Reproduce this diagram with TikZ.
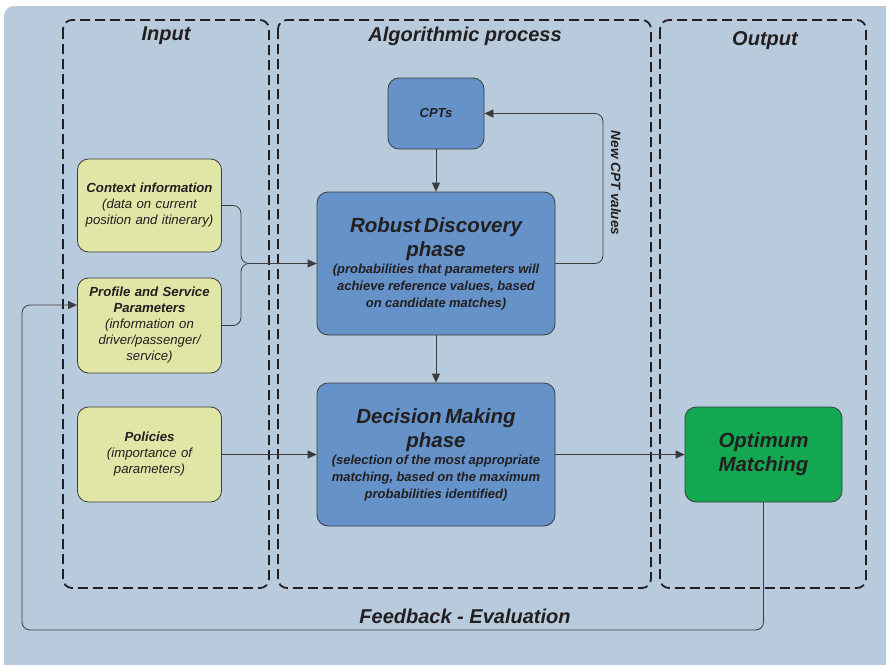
\documentclass[tikz,border=0pt]{standalone}
\usepackage{fontspec}
\setmainfont{Liberation Sans}
\usetikzlibrary{arrows.meta,calc}
\definecolor{bgc}{HTML}{B8CBDC}
\definecolor{bluebox}{HTML}{6593C9}
\definecolor{yelbox}{HTML}{DFE6A6}
\definecolor{grnbox}{HTML}{13A752}
\definecolor{bord}{HTML}{3C3C3C}
\definecolor{txt}{HTML}{231F20}
\newcommand{\bigtitle}{\fontsize{20.5}{24}\selectfont\bfseries\itshape}
\newcommand{\subtxt}{\fontsize{13}{17}\selectfont\bfseries\itshape}
\begin{document}
\begin{tikzpicture}[x=1pt,y=-1pt,
  every node/.style={text=txt},
  box/.style={draw=bord, line width=0.8pt, rounded corners=11pt, align=center, inner sep=2pt},
  bluest/.style={box, fill=bluebox},
  yelst/.style={box, fill=yelbox, minimum width=143pt, minimum height=95pt, text width=140pt, font=\fontsize{13.2}{16}\selectfont\itshape},
  lane/.style={draw=txt, line width=1.8pt, dash pattern=on 10pt off 5pt, rounded corners=9pt},
  lanetitle/.style={font=\fontsize{20}{24}\selectfont\bfseries\itshape},
  conn/.style={draw=bord, line width=0.8pt, rounded corners=8pt},
  arr/.style={-{Triangle[length=9pt,width=8pt]}}
]
\useasboundingbox (0,0) rectangle (886,664);
\fill[bgc, rounded corners=10pt] (4,6) rectangle (900,680);

% lanes
\draw[lane] (63,20) rectangle (269,588);
\draw[lane] (278,20) rectangle (651,588);
\draw[lane] (660,20) rectangle (866,588);
\node[lanetitle] (tin) at (166,36) {Input};
\node[lanetitle] (talg) at (465,36) {Algorithmic process};
\node[lanetitle] (tout) at (765,41) {Output};

% nodes
\node[bluest, minimum width=96pt, minimum height=71pt, font=\fontsize{13}{15}\selectfont\bfseries\itshape] (cpt) at (436,113.5) {CPTs};
\node[bluest, minimum width=238pt, minimum height=143pt, text width=234pt] (rob) at (436,263.5)
  {\bigtitle Robust Discovery\\phase\par
   \subtxt (probabilities that parameters will\\achieve reference values, based\\on candidate matches)\par};
\node[bluest, minimum width=238pt, minimum height=143pt, text width=234pt] (dec) at (436,454.5)
  {\bigtitle Decision Making\\phase\par
   \subtxt (selection of the most appropriate\\matching, based on the maximum\\probabilities identified)\par};
\node[yelst, minimum height=93pt] (ctx) at (149.5,205.5)
  {{\bfseries Context information}\\(data on current\\position and itinerary)};
\node[yelst] (prof) at (149.5,325.5)
  {{\bfseries Profile and Service\\Parameters}\\(information on\\driver/passenger/\\service)};
\node[yelst] (pol) at (149.5,454.5)
  {{\bfseries Policies}\\(importance of\\parameters)};
\node[box, fill=grnbox, minimum width=157pt, minimum height=95pt, font=\bigtitle] (opt) at (763.5,454.5)
  {Optimum\\Matching};

% connectors
\coordinate (mj) at (241,263.5);
\draw[conn] (ctx.east) -| (mj) -- (rob.west);
\draw[conn, arr] (prof.east) -| (mj) -- (rob.west);
\draw[conn, arr] (cpt.south) -- (rob.north);
\draw[conn, arr] (rob.south) -- (dec.north);
\coordinate (loopc) at (603,263.5);
\draw[conn, arr] (rob.east) -- (loopc) |- (cpt.east);
\node[rotate=-90, font=\fontsize{13.5}{16}\selectfont\bfseries\itshape] (ncv) at (616,183) {New CPT values};
\draw[conn, arr] (pol.east) -- (dec.west);
\draw[conn, arr] (dec.east) -- (opt.west);
\coordinate (fbr) at (763.5,630);
\coordinate (fbl) at (22,630);
\draw[conn, arr] (opt.south) -- (fbr) -- (fbl) |- ([yshift=20.5pt]prof.west);
\node[lanetitle] (fbt) at (465,616) {Feedback - Evaluation};
\end{tikzpicture}
\end{document}
